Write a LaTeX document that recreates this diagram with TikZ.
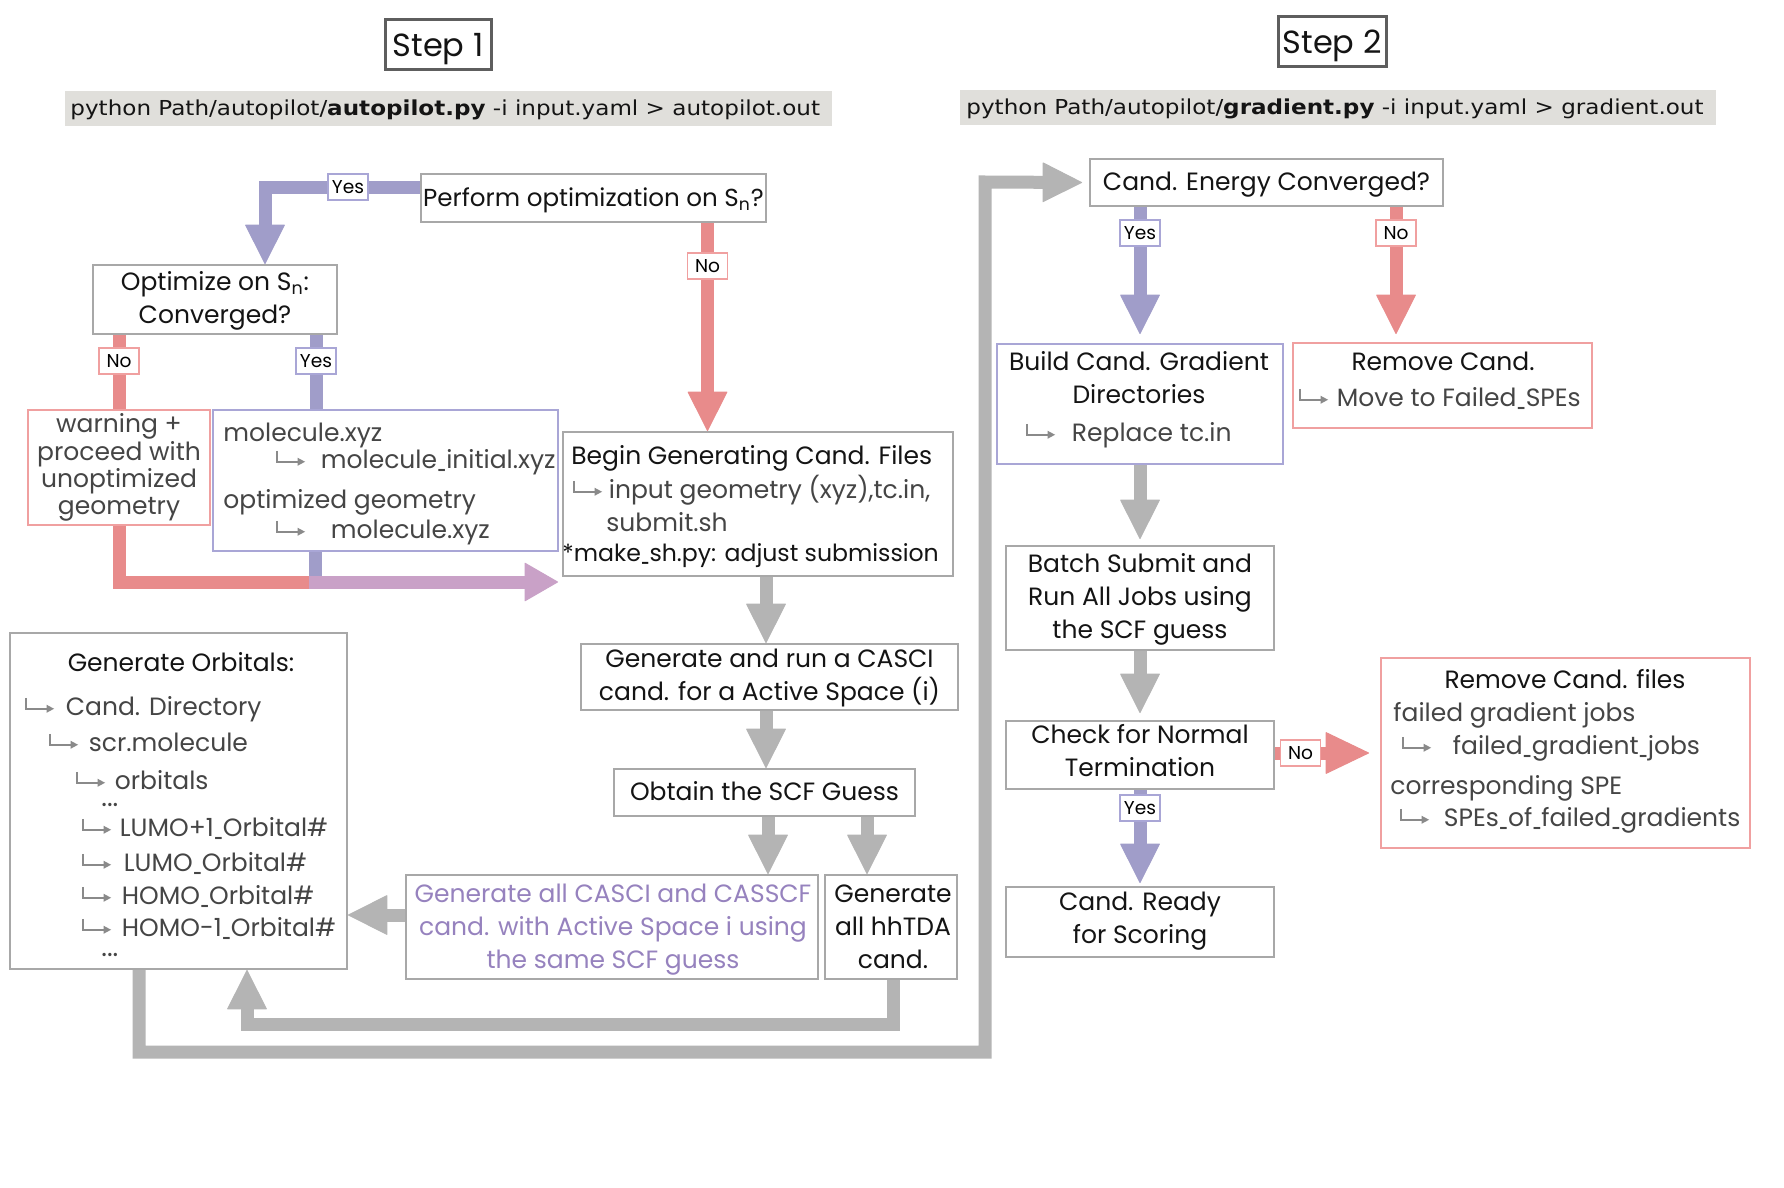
\documentclass[tikz,border=0pt]{standalone}
\usepackage{fontspec}
\usepackage{graphicx}
\setmainfont{Poppins}
\newfontfamily\dvs[FakeStretch=1.12]{DejaVu Sans}
\usetikzlibrary{arrows.meta,fit}
\pgfdeclarelayer{bg}
\pgfsetlayers{bg,main}
\definecolor{arrgray}{HTML}{B4B4B4}
\definecolor{purp}{HTML}{A09DC9}
\definecolor{redd}{HTML}{E88B8B}
\definecolor{mauve}{HTML}{C9A1C7}
\definecolor{boxgray}{HTML}{A8A8A8}
\definecolor{boxpurp}{HTML}{A9A6D6}
\definecolor{boxred}{HTML}{F0A0A0}
\definecolor{purptext}{HTML}{9682BE}
\definecolor{cmdbg}{HTML}{E0DFDB}
\definecolor{subtext}{HTML}{454545}
\definecolor{hookgray}{HTML}{8A8A8A}
\definecolor{stepgray}{HTML}{5E5E5E}
\newcommand\hk{\tikz[baseline=0pt]{\draw[hookgray,line width=0.75pt,-{Triangle[length=3.8pt,width=3.8pt]}] (0pt,9pt)--(0pt,3.5pt)--(14pt,3.5pt);}}
\newcommand\us{\scalebox{0.5}[1]{\_}}
\tikzset{
  box/.style={draw=boxgray, line width=1pt, inner sep=0pt, fill=white},
  pbox/.style={box, draw=boxpurp},
  rbox/.style={box, draw=boxred},
  stepbox/.style={draw=stepgray, line width=1.5pt, inner sep=0pt, fill=white},
  cmdbox/.style={fill=cmdbg, inner sep=0pt},
  txt/.style={inner sep=0pt, text height=8.75pt, text depth=0pt, font=\fontsize{12.5}{15}\selectfont, text=black!92},
  stxt/.style={txt, text=subtext},
  ptxt/.style={txt, text=purptext},
  dots/.style={inner sep=0pt, text height=1.5pt, text depth=0pt, anchor=base west, text=subtext, font=\fontsize{13.5}{14}\selectfont},
  lab/.style={fill=white, inner sep=0pt, minimum width=20pt, minimum height=13pt, line width=0.75pt, font=\fontsize{9.3}{10}\selectfont},
  ylab/.style={lab, draw=boxpurp},
  nlab/.style={lab, draw=boxred},
  fat/.style={line width=6.5pt, -{Triangle[length=20pt,width=20pt,line width=0.5pt,round]}},
  bar/.style={line width=6.5pt},
}
\begin{document}
\begin{tikzpicture}[x=0.5pt,y=-0.5pt]
\useasboundingbox (0,0) rectangle (1784,1188);
% headers
\node[stepbox, fit={(385,20)(491,70)}] (step1) {};
\node[txt, text height=11.5pt, font=\fontsize{16}{18}\selectfont] (step1t) at (438,45) {Step 1};
\node[stepbox, fit={(1278,17)(1386,67)}] (step2) {};
\node[txt, text height=11.5pt, font=\fontsize{16}{18}\selectfont] (step2t) at (1332,42) {Step 2};
\node[cmdbox, fit={(65,91)(832,126)}] (cmd1) {};
\node[txt, anchor=west, text height=7.5pt, font=\dvs\fontsize{10.3}{12}\selectfont] (cmd1t) at (70,108.5) {python Path/autopilot/\textbf{autopilot.py} -i input.yaml > autopilot.out};
\node[cmdbox, fit={(960,90)(1716,125)}] (cmd2) {};
\node[txt, anchor=west, text height=7.5pt, font=\dvs\fontsize{10.3}{12}\selectfont] (cmd2t) at (966,107.5) {python Path/autopilot/\textbf{gradient.py} -i input.yaml > gradient.out};
% step 1 boxes
\node[box, fit={(421,174)(766,222)}] (perform) {};
\node[txt, font=\fontsize{12.3}{15}\selectfont] (performt) at (593.5,198) {Perform optimization on S\textsubscript{n}?};
\node[box, fit={(93,265)(337,334)}] (opt) {};
\node[txt] (optt1) at (215,282) {Optimize on S\textsubscript{n}:};
\node[txt] (optt2) at (215,315) {Converged?};
\node[rbox, fit={(28,410)(210,525)}] (warn) {};
\node[stxt] (warnt1) at (119,424) {warning +};
\node[stxt] (warnt2) at (119,452) {proceed with};
\node[stxt] (warnt3) at (119,479) {unoptimized};
\node[stxt] (warnt4) at (119,506) {geometry};
\node[pbox, fit={(213,410)(558,551)}] (mol) {};
\node[stxt, anchor=west] (molt1) at (223,433) {molecule.xyz};
\node[stxt, anchor=west] (molt2) at (276,460) {\hk\hspace{7.5pt}molecule\us initial.xyz};
\node[stxt, anchor=west] (molt3) at (223,500) {optimized geometry};
\node[stxt, anchor=west] (molt4) at (276,530) {\hk\hspace{12.5pt}molecule.xyz};
\node[box, fit={(563,432)(953,576)}] (begin) {};
\node[txt, anchor=west] (begint1) at (571,456) {Begin Generating Cand. Files};
\node[stxt, anchor=west] (begint2) at (573,490) {\hk\hspace{3pt}input geometry (xyz),tc.in,};
\node[stxt, anchor=west] (begint3) at (606,523) {submit.sh};
\node[txt, anchor=west, font=\fontsize{11.8}{14}\selectfont] (begint4) at (562,553) {*make\us sh.py: adjust submission};
\node[box, fit={(581,644)(958,710)}] (casci) {};
\node[txt] (cascit1) at (769.5,659) {Generate and run a CASCI};
\node[txt] (cascit2) at (769.5,692) {cand. for a Active Space (i)};
\node[box, fit={(614,769)(915,816)}] (scf) {};
\node[txt] (scft) at (764.5,792) {Obtain the SCF Guess};
\node[box, fit={(406,875)(818,979)}] (gall) {};
\node[ptxt] (gallt1) at (613,894) {Generate all CASCI and CASSCF};
\node[ptxt] (gallt2) at (613,927) {cand. with Active Space i using};
\node[ptxt] (gallt3) at (613,960) {the same SCF guess};
\node[box, fit={(825,875)(957,979)}] (hh) {};
\node[txt] (hht1) at (893,894) {Generate};
\node[txt] (hht2) at (893,927) {all hhTDA};
\node[txt] (hht3) at (893,960) {cand.};
\node[box, fit={(10,633)(347,969)}] (orb) {};
\node[txt] (orbt1) at (181,663) {Generate Orbitals:};
\node[stxt, anchor=west] (orbt2) at (25,707) {\hk\hspace{5.5pt}Cand. Directory};
\node[stxt, anchor=west] (orbt3) at (49,743) {\hk\hspace{5pt}scr.molecule};
\node[stxt, anchor=west] (orbt4) at (76,781) {\hk\hspace{4.5pt}orbitals};
\node[dots] (orbt5) at (101,806) {...};
\node[stxt, anchor=west] (orbt6) at (82,828) {\hk\hspace{4pt}LUMO+1\us Orbital\#};
\node[stxt, anchor=west] (orbt7) at (82,863) {\hk\hspace{6pt}LUMO\us Orbital\#};
\node[stxt, anchor=west] (orbt8) at (82,896) {\hk\hspace{5pt}HOMO\us Orbital\#};
\node[stxt, anchor=west] (orbt9) at (82,928) {\hk\hspace{5pt}HOMO-1\us Orbital\#};
\node[dots] (orbt10) at (101,956) {...};
% step 2 boxes
\node[box, fit={(1090,159)(1443,206)}] (candE) {};
\node[txt] (candEt) at (1266.5,182) {Cand. Energy Converged?};
\node[pbox, fit={(997,344)(1283,464)}] (build) {};
\node[txt] (buildt1) at (1139,362) {Build Cand. Gradient};
\node[txt] (buildt2) at (1139,395) {Directories};
\node[stxt, anchor=west] (buildt3) at (1026,433) {\hk\hspace{8pt}Replace tc.in};
\node[rbox, fit={(1293,343)(1592,428)}] (rem) {};
\node[txt] (remt1) at (1443,362) {Remove Cand.};
\node[stxt, anchor=west] (remt2) at (1299,398) {\hk\hspace{4pt}Move to Failed\us SPEs};
\node[box, fit={(1006,546)(1274,650)}] (batch) {};
\node[txt] (batcht1) at (1140,564) {Batch Submit and};
\node[txt] (batcht2) at (1140,597) {Run All Jobs using};
\node[txt] (batcht3) at (1140,630) {the SCF guess};
\node[box, fit={(1006,721)(1274,789)}] (check) {};
\node[txt] (checkt1) at (1140,735) {Check for Normal};
\node[txt] (checkt2) at (1140,768) {Termination};
\node[box, fit={(1006,887)(1274,957)}] (ready) {};
\node[txt] (readyt1) at (1140,902) {Cand. Ready};
\node[txt] (readyt2) at (1140,935) {for Scoring};
\node[rbox, fit={(1381,658)(1750,848)}] (remf) {};
\node[txt] (remft1) at (1565,680) {Remove Cand. files};
\node[stxt, anchor=west] (remft2) at (1393,713) {failed gradient jobs};
\node[stxt, anchor=west] (remft3) at (1402,746) {\hk\hspace{10.5pt}failed\us gradient\us jobs};
\node[stxt, anchor=west] (remft4) at (1390,786) {corresponding SPE};
\node[stxt, anchor=west] (remft5) at (1400,818) {\hk\hspace{7pt}SPEs\us of\us failed\us gradients};
% labels
\node[ylab] (y1) at (348,187) {Yes};
\node[nlab] (n1) at (707.5,266) {No};
\node[nlab] (n2) at (119,361) {No};
\node[ylab] (y2) at (316,361) {Yes};
\node[ylab] (y3) at (1140,233) {Yes};
\node[nlab] (n3) at (1396,233) {No};
\node[nlab] (n4) at (1300.5,753) {No};
\node[ylab] (y4) at (1140,808) {Yes};
% connector coordinates
\coordinate (c1) at (265,188);
\coordinate (c2) at (119,582);
\coordinate (c3) at (309,582);
\coordinate (c4) at (558,582);
\coordinate (c5) at (315,575.5);
\coordinate (x766) at (766,0);
\coordinate (x768) at (768,0);
\coordinate (x867) at (867,0);
\coordinate (y915) at (0,915);
\coordinate (c6) at (893,1024);
\coordinate (c7) at (247,1024);
\coordinate (c8) at (139,1052);
\coordinate (c9) at (985,1052);
\coordinate (c10) at (985,182);
\coordinate (c11) at ([xshift=-3.5pt]candE.west);
\begin{pgfonlayer}{bg}
\fill[white] (0,0) rectangle (1784,1188);
\draw[fat, purp] (perform.west |- c1) -- (c1) -- (opt.north -| c1);
\draw[fat, redd] (perform.south -| n1) -- (begin.north -| n1);
\draw[bar, redd] (opt.south -| n2) -- (warn.north -| n2);
\draw[bar, purp] (opt.south -| y2) -- (mol.north -| y2);
\draw[bar, redd] (warn.south -| c2) -- (c2) -- (c3);
\draw[bar, purp] (mol.south -| c5) -- (c5);
\draw[line width=6.5pt, mauve, -{Triangle[length=17pt,width=19.5pt,line width=0.5pt,round]}] (c3) -- (c4);
\draw[fat, arrgray] (begin.south -| x766) -- (casci.north -| x766);
\draw[fat, arrgray] (casci.south -| x766) -- (scf.north -| x766);
\draw[fat, arrgray] (scf.south -| x768) -- (gall.north -| x768);
\draw[fat, arrgray] (scf.south -| x867) -- (hh.north -| x867);
\draw[fat, arrgray] (gall.west |- y915) -- (orb.east |- y915);
\draw[fat, arrgray] (hh.south -| c6) -- (c6) -- (c7) -- (orb.south -| c7);
\draw[fat, arrgray] (orb.south -| c8) -- (c8) -- (c9) -- (c10) -- (c11);
\draw[fat, purp, shorten >=4.5pt] (candE.south -| y3) -- (build.north -| y3);
\draw[fat, redd, shorten >=4pt] (candE.south -| n3) -- (rem.north -| n3);
\draw[fat, arrgray, shorten >=3pt] (build.south -| y3) -- (batch.north -| y3);
\draw[fat, arrgray, shorten >=3.5pt] (batch.south -| y3) -- (check.north -| y3);
\draw[line width=6.5pt, redd, shorten >=5.5pt, -{Triangle[length=22pt,width=21pt,line width=0.5pt,round]}] (check.east |- n4) -- (remf.west |- n4);
\draw[fat, purp, shorten >=1.5pt] (check.south -| y4) -- (ready.north -| y4);
\end{pgfonlayer}
\end{tikzpicture}
\end{document}
